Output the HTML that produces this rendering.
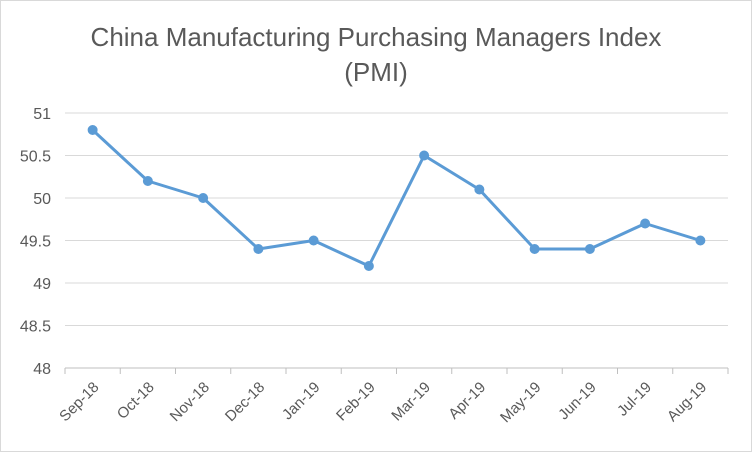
<!DOCTYPE html>
<html><head><meta charset="utf-8"><style>
html,body{margin:0;padding:0;background:#fff;}
svg{display:block;font-family:"Liberation Sans",sans-serif;}
</style></head><body>
<svg id="chart" width="752" height="452" viewBox="0 0 752 452">
<rect x="0.5" y="0.5" width="751" height="451" fill="#fff" stroke="#d9d9d9"/>
<text x="376" y="46" text-anchor="middle" font-size="26" fill="#595959">China Manufacturing Purchasing Managers Index</text>
<text x="376" y="81" text-anchor="middle" font-size="26" fill="#595959">(PMI)</text>
<g id="grid"></g><g id="axes"></g><g id="series"></g>
</svg>
<script>
const categories=["Sep-18","Oct-18","Nov-18","Dec-18","Jan-19","Feb-19","Mar-19","Apr-19","May-19","Jun-19","Jul-19","Aug-19"];
const pmiValues=[50.8,50.2,50.0,49.4,49.5,49.2,50.5,50.1,49.4,49.4,49.7,49.5];
const yTicks=[48,48.5,49,49.5,50,50.5,51];
const yTickLabels=["48","48.5","49","49.5","50","50.5","51"];
const NS="http://www.w3.org/2000/svg";
const L=65,R=728,T=113,B=368,yMin=48,yMax=51;
const bw=(R-L)/categories.length;
function x(i){return L+bw*(i+0.5);}
function y(v){return B-(v-yMin)/(yMax-yMin)*(B-T);}
function mk(tag,attrs,parent){const e=document.createElementNS(NS,tag);for(const k in attrs)e.setAttribute(k,attrs[k]);parent.appendChild(e);return e;}
const grid=document.getElementById('grid'),axes=document.getElementById('axes'),series=document.getElementById('series');
yTicks.forEach((t,i)=>{
 const ln=mk('line',{x1:L,x2:R,y1:y(t),y2:y(t),stroke:t===yMin?'#bfbfbf':'#d9d9d9','stroke-width':1},grid);
 
 
 const tx=mk('text',{x:L-14,y:y(t)+6,'text-anchor':'end','font-size':16,fill:'#595959'},axes);
 tx.textContent=yTickLabels[i];
 
 
});
for(let i=0;i<=categories.length;i++){
 const tk=mk('line',{x1:L+bw*i,x2:L+bw*i,y1:B,y2:B+6,stroke:'#bfbfbf'},axes);
 
 
}
categories.forEach((c,i)=>{
 const ax=x(i)+7,ay=B+20;
 const tx=mk('text',{x:ax,y:ay,'text-anchor':'end','font-size':15,fill:'#595959',transform:`rotate(-45 ${ax} ${ay})`},axes);
 tx.textContent=c;
 
 
});
const pl=mk('polyline',{points:pmiValues.map((v,i)=>x(i)+','+y(v)).join(' '),fill:'none',stroke:'#5b9bd5','stroke-width':3,'stroke-linejoin':'round'},series);


pmiValues.forEach((v,i)=>{
 const c=mk('circle',{cx:x(i),cy:y(v),r:5,fill:'#5b9bd5'},series);
 
 
});
</script>
</body></html>
